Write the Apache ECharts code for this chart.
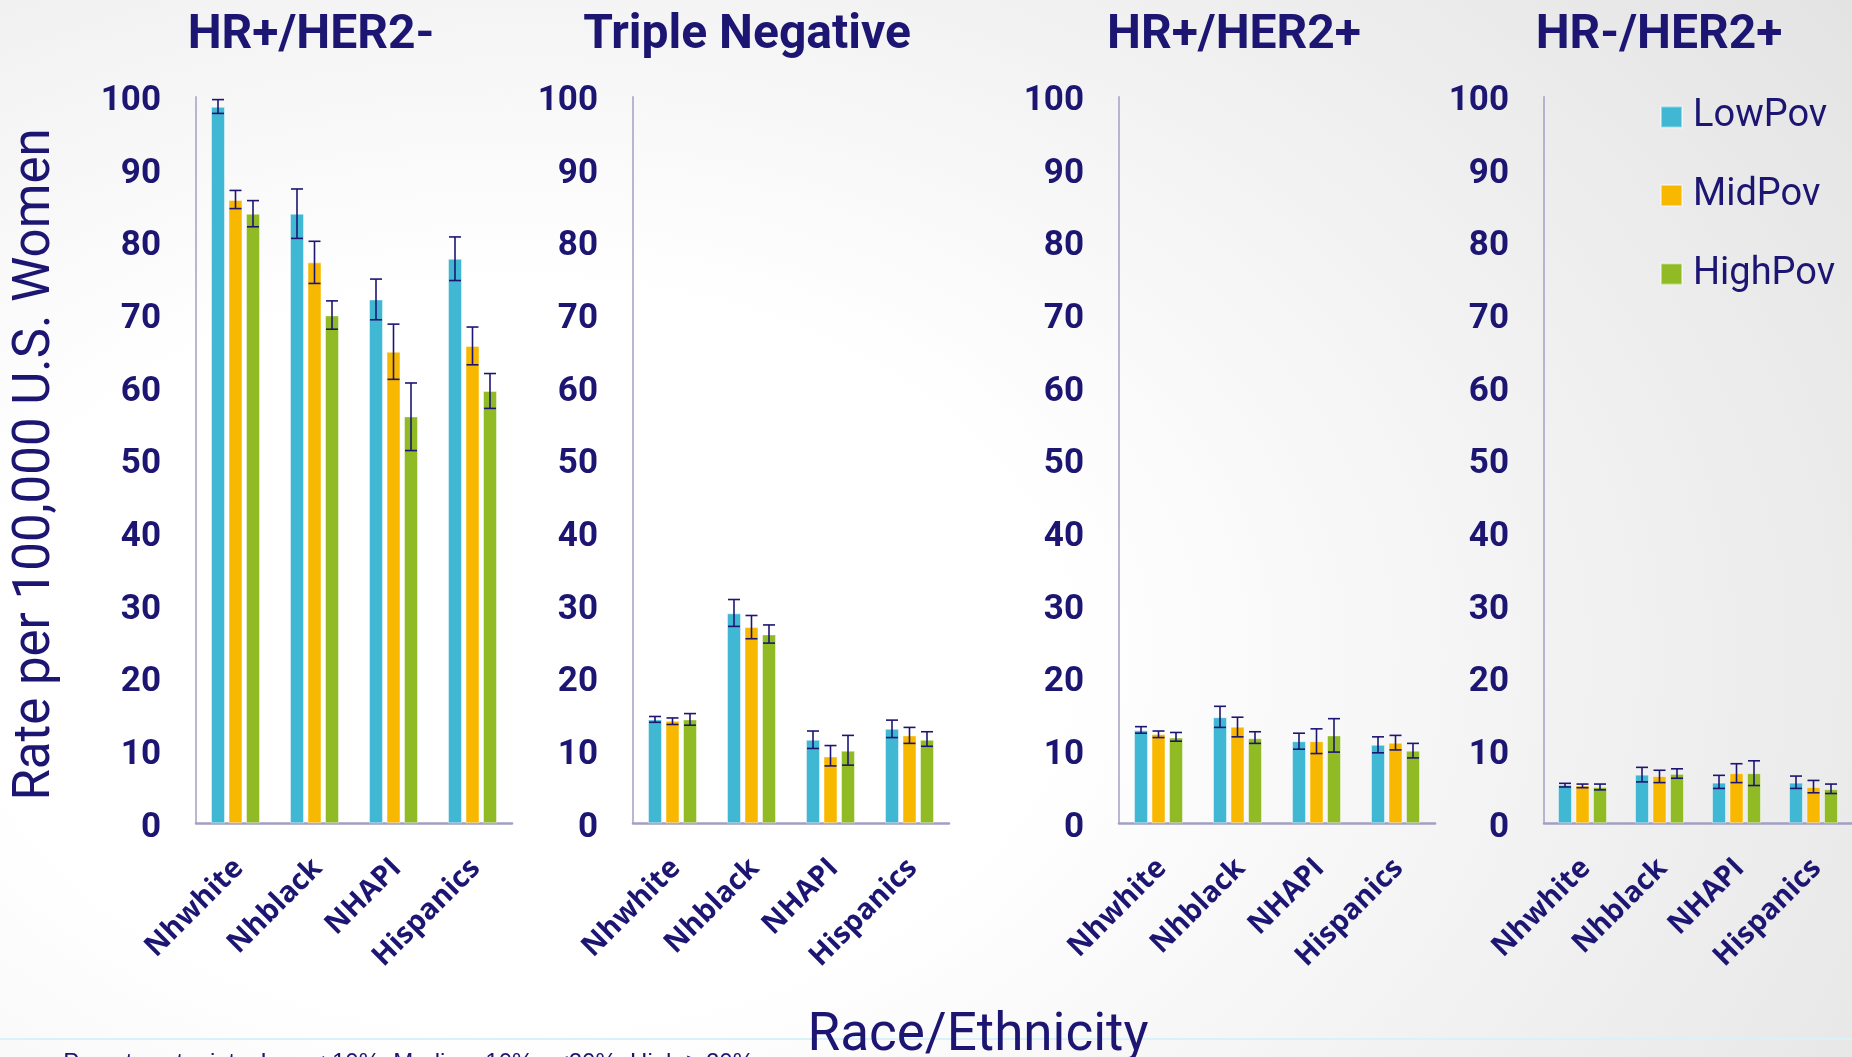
<!DOCTYPE html>
<html>
<head>
<meta charset="utf-8">
<script src="https://cdn.jsdelivr.net/npm/echarts@6/dist/echarts.min.js"></script>
<style>
  html, body { margin: 0; padding: 0; width: 1852px; height: 1057px; overflow: hidden; }
  #chart {
    width: 1852px; height: 1057px;
    background: radial-gradient(ellipse 105% 125% at 28% 62%, #ffffff 0%, #ffffff 28%, #ededed 64%, #dcdcdc 100%);
  }
</style>
</head>
<body>
<div id="chart"></div>
<script>
// Breast cancer incidence by subtype, race/ethnicity and neighborhood poverty
const categories = ['Nhwhite', 'Nhblack', 'NHAPI', 'Hispanics'];
const povertyLevels = ['LowPov', 'MidPov', 'HighPov'];
const subtypes = ['HR+/HER2-', 'Triple Negative', 'HR+/HER2+', 'HR-/HER2+'];
const yTicks = { min: 0, max: 100, step: 10 };

// Rows: LowPov, MidPov, HighPov; columns follow `categories`
const rateHrPosHer2Neg  = [[98.6, 83.9, 72.1, 77.7], [85.8, 77.2, 64.9, 65.7], [83.9, 69.9, 56.0, 59.5]];
const lowerHrPosHer2Neg = [[97.7, 80.5, 69.3, 74.7], [84.6, 74.3, 61.1, 63.1], [82.1, 68.0, 51.3, 57.1]];
const upperHrPosHer2Neg = [[99.6, 87.3, 74.9, 80.7], [87.1, 80.1, 68.7, 68.3], [85.7, 71.9, 60.6, 61.9]];

const rateTripleNeg  = [[14.3, 28.9, 11.5, 13.0], [14.1, 27.0, 9.2, 12.1], [14.3, 26.0, 10.0, 11.5]];
const lowerTripleNeg = [[13.9, 27.1, 10.3, 11.8], [13.6, 25.4, 7.9, 11.0], [13.5, 24.8, 8.0, 10.6]];
const upperTripleNeg = [[14.7, 30.8, 12.7, 14.2], [14.5, 28.6, 10.7, 13.2], [15.1, 27.3, 12.1, 12.6]];

const rateHrPosHer2Pos  = [[12.8, 14.6, 11.3, 10.8], [12.3, 13.3, 11.3, 11.1], [11.8, 11.7, 12.1, 10.0]];
const lowerHrPosHer2Pos = [[12.4, 13.2, 10.2, 9.7], [11.8, 11.9, 9.6, 10.1], [11.3, 11.0, 9.8, 9.0]];
const upperHrPosHer2Pos = [[13.3, 16.1, 12.4, 11.9], [12.7, 14.6, 13.0, 12.1], [12.5, 12.6, 14.4, 11.0]];

const rateHrNegHer2Pos  = [[5.3, 6.7, 5.6, 5.6], [5.2, 6.5, 6.9, 5.0], [5.0, 6.8, 6.9, 4.7]];
const lowerHrNegHer2Pos = [[5.0, 5.7, 4.8, 4.8], [4.9, 5.6, 5.6, 4.2], [4.6, 6.2, 5.2, 4.1]];
const upperHrNegHer2Pos = [[5.5, 7.7, 6.6, 6.5], [5.4, 7.3, 8.2, 5.9], [5.4, 7.5, 8.6, 5.4]];

const panelRates  = [rateHrPosHer2Neg, rateTripleNeg, rateHrPosHer2Pos, rateHrNegHer2Pos];
const panelLowers = [lowerHrPosHer2Neg, lowerTripleNeg, lowerHrPosHer2Pos, lowerHrNegHer2Pos];
const panelUppers = [upperHrPosHer2Neg, upperTripleNeg, upperHrPosHer2Pos, upperHrNegHer2Pos];

// Layout and styling
const gridLefts = [196, 633, 1119, 1544];
const gridWidth = 316;
const gridTop = 96.7;
const gridHeight = 726.6;
const titleCenters = [311, 747, 1234, 1659];
const colors = ['#41b8d3', '#f9b800', '#90bb24'];
const navy = '#1c1672';
const axisColor = '#a29fc2';
const FONT = 'Roboto, "Noto Sans", sans-serif';
const BAR_W = 14;
const BAR_GAP = 0.25;
const CAP = 6;

const chart = echarts.init(document.getElementById('chart'), null, { renderer: 'canvas' });

const grids = [], xAxes = [], yAxes = [], series = [];

gridLefts.forEach((left, p) => {
  grids.push({ left: left, top: gridTop, width: gridWidth, height: gridHeight, containLabel: false });
  xAxes.push({
    type: 'category', gridIndex: p, data: categories,
    axisLine: { show: true, lineStyle: { color: axisColor, width: 2.5 } },
    axisTick: { show: false },
    axisLabel: {
      interval: 0, rotate: 45, margin: 23, verticalAlign: 'top', padding: [0, 10, 0, 0],
      color: navy, fontFamily: '"Open Sans", sans-serif', fontWeight: 'bold', fontSize: 29
    },
    splitLine: { show: false }
  });
  yAxes.push({
    type: 'value', gridIndex: p, min: yTicks.min, max: yTicks.max, interval: yTicks.step,
    axisLine: { show: true, lineStyle: { color: axisColor, width: 1.5 } },
    axisTick: { show: false },
    splitLine: { show: false },
    // small line box anchored at its top: digits sit a few px below each tick
    axisLabel: { margin: 35, verticalAlign: 'top', lineHeight: 9, color: navy,
                 fontFamily: FONT, fontWeight: 'bold', fontSize: 35 }
  });

  povertyLevels.forEach((lvl, k) => {
    series.push({
      type: 'bar', name: lvl, xAxisIndex: p, yAxisIndex: p,
      data: panelRates[p][k],
      barWidth: BAR_W, barGap: (BAR_GAP * 100) + '%',
      itemStyle: { color: colors[k], borderColor: 'rgba(255,255,255,0.45)', borderWidth: 1 },
      emphasis: { disabled: true },
      z: 2
    });
  });

  // Confidence-interval whiskers drawn over each bar
  povertyLevels.forEach((lvl, k) => {
    const offset = (k - 1) * BAR_W * (1 + BAR_GAP);
    series.push({
      type: 'custom', name: lvl + ' CI', xAxisIndex: p, yAxisIndex: p,
      data: categories.map((c, i) => [i, panelLowers[p][k][i], panelUppers[p][k][i]]),
      encode: { x: 0, y: [1, 2] },
      z: 5, silent: true,
      renderItem: function (params, api) {
        const ci = api.value(0);
        const hi = api.coord([ci, api.value(2)]);
        const lo = api.coord([ci, api.value(1)]);
        const x = hi[0] + offset;
        const st = { stroke: navy, lineWidth: 1.6 };
        return {
          type: 'group',
          children: [
            { type: 'line', shape: { x1: x, y1: hi[1], x2: x, y2: lo[1] }, style: st },
            { type: 'line', shape: { x1: x - CAP, y1: hi[1], x2: x + CAP, y2: hi[1] }, style: st },
            { type: 'line', shape: { x1: x - CAP, y1: lo[1], x2: x + CAP, y2: lo[1] }, style: st }
          ]
        };
      }
    });
  });
});

const graphics = [
  // thin rule across the bottom of the slide
  { type: 'rect', shape: { x: 0, y: 1038, width: 1852, height: 2 }, style: { fill: '#d9f1f8' }, z: 0 },
  {
    type: 'text', x: 36, y: 464.5, rotation: Math.PI / 2,
    style: { text: 'Rate per 100,000 U.S. Women', fontFamily: FONT, fontSize: 51, fill: navy,
             align: 'center', verticalAlign: 'middle' }, z: 10
  },
  {
    type: 'text', x: 978, y: 1037,
    style: { text: 'Race/Ethnicity', fontFamily: FONT, fontSize: 53, fill: navy,
             align: 'center', verticalAlign: 'middle' }, z: 10
  },
  {
    type: 'text', x: 754, y: 1051,
    style: { text: 'Poverty cutpoints: Low < 10%, Medium 10% - <20%, High ≥ 20%',
             fontFamily: '"Liberation Sans", Arial, sans-serif', fontSize: 24, fill: navy,
             align: 'right', verticalAlign: 'top' }, z: 10
  }
];
subtypes.forEach((t, p) => {
  graphics.push({
    type: 'text', x: titleCenters[p], y: 36,
    style: { text: t, fontFamily: FONT, fontSize: 48, fontWeight: 'bold', fill: navy,
             align: 'center', verticalAlign: 'middle' }, z: 10
  });
});

chart.setOption({
  backgroundColor: 'transparent',
  animation: false,
  grid: grids,
  xAxis: xAxes,
  yAxis: yAxes,
  legend: {
    data: povertyLevels, orient: 'vertical', left: 1660, top: 95.4, padding: 0,
    icon: 'rect', itemWidth: 21, itemHeight: 21, itemGap: 35.6, selectedMode: false,
    textStyle: { color: navy, fontFamily: FONT, fontSize: 38, lineHeight: 40, padding: [3, 0, 0, 6] }
  },
  graphic: graphics,
  series: series
});
</script>
</body>
</html>
